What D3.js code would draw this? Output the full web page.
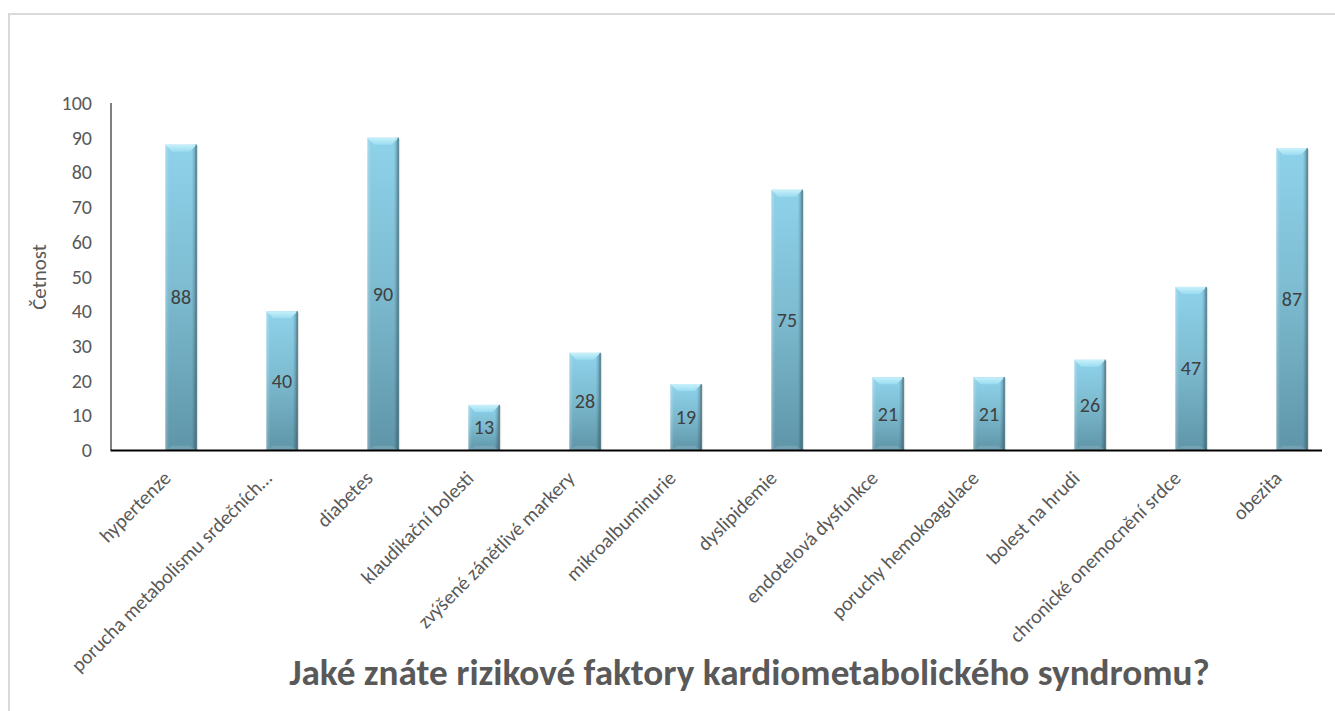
<!DOCTYPE html>
<html><head><meta charset="utf-8">
<script src="https://cdn.jsdelivr.net/npm/d3@7"></script>
<style>body{margin:0;background:#fff}svg{display:block}</style>
</head><body>
<svg id="chart" width="1335" height="711"></svg>
<script>
const categories = ["hypertenze","porucha metabolismu srdečních…","diabetes","klaudikační bolesti","zvýšené zánětlivé markery","mikroalbuminurie","dyslipidemie","endotelová dysfunkce","poruchy hemokoagulace","bolest na hrudi","chronické onemocnění srdce","obezita"];
const values = [88,40,90,13,28,19,75,21,21,26,47,87];
const yTicks = [0,10,20,30,40,50,60,70,80,90,100];
const yTitle = "Četnost";
const chartTitle = "Jaké znáte rizikové faktory kardiometabolického syndromu?";

const FONT = "Carlito, Calibri, Lato, sans-serif";
const svg = d3.select("#chart");

// frame
svg.append("rect").attr("x",9).attr("y",14).attr("width",1400).attr("height",800)
  .attr("fill","none").attr("stroke","#d9d9d9").attr("stroke-width",2);

const defs = svg.append("defs");
const vg = defs.append("linearGradient").attr("id","gv").attr("x1",0).attr("y1",0).attr("x2",0).attr("y2",1);
vg.append("stop").attr("offset","0%").attr("stop-color","#8ed2ea");
vg.append("stop").attr("offset","45%").attr("stop-color","#7ebdd2");
vg.append("stop").attr("offset","100%").attr("stop-color","#5f95a8");
const hg = defs.append("linearGradient").attr("id","gh").attr("x1",0).attr("y1",0).attr("x2",1).attr("y2",0);
hg.append("stop").attr("offset","0%").attr("stop-color","#ffffff").attr("stop-opacity",0.25);
hg.append("stop").attr("offset","12%").attr("stop-color","#ffffff").attr("stop-opacity",0);
hg.append("stop").attr("offset","85%").attr("stop-color","#000000").attr("stop-opacity",0);
hg.append("stop").attr("offset","100%").attr("stop-color","#000000").attr("stop-opacity",0.3);
const tg = defs.append("linearGradient").attr("id","gt").attr("x1",0).attr("y1",0).attr("x2",0).attr("y2",1);
tg.append("stop").attr("offset","0%").attr("stop-color","#c8f1fb");
tg.append("stop").attr("offset","100%").attr("stop-color","#9adcf0");

const x = d3.scaleBand().domain(categories).range([130.5,1342.5]).paddingInner(0.69).paddingOuter(0.345);
const y = d3.scaleLinear().domain([0,100]).range([450,103]);
const xAxisEnd = 1322;

// bars
const bw = x.bandwidth();
const g = svg.append("g");
categories.forEach((c,i)=>{
  const v = values[i];
  const x0 = x(c), yt = y(v), yb = y(0), h = yb-yt;
  const bg = g.append("g");
  bg.append("rect").attr("x",x0+1.5).attr("y",yt+1).attr("width",bw).attr("height",h-1)
    .attr("fill","#000").attr("opacity",0.12);
  bg.append("rect").attr("x",x0).attr("y",yt).attr("width",bw).attr("height",h).attr("fill","url(#gv)");
  bg.append("rect").attr("x",x0).attr("y",yt).attr("width",bw).attr("height",h).attr("fill","url(#gh)");
  const bev = Math.min(7, h/2);
  bg.append("polygon").attr("points",[[x0,yt],[x0+bw,yt],[x0+bw-bev,yt+bev],[x0+bev,yt+bev]].map(p=>p.join(",")).join(" "))
    .attr("fill","url(#gt)");
  bg.append("polygon").attr("points",[[x0+bev,yb-bev*0.6],[x0+bw-bev,yb-bev*0.6],[x0+bw,yb],[x0,yb]].map(p=>p.join(",")).join(" "))
    .attr("fill","#ffffff").attr("opacity",0.12);
  bg.append("line").attr("x1",x0+bw-0.5).attr("x2",x0+bw-0.5).attr("y1",yt).attr("y2",yb)
    .attr("stroke","#4a7887").attr("stroke-width",1);
  g.append("text").attr("x",x0+bw/2).attr("y",(yt+yb)/2).attr("dy","0.35em")
    .attr("text-anchor","middle").attr("font-family",FONT).attr("font-size",20).attr("fill","#404040").text(v);
});

// axes
svg.append("line").attr("x1",x.range()[0]-19.5).attr("x2",x.range()[0]-19.5).attr("y1",y(100)).attr("y2",y(0))
  .attr("stroke","#000").attr("stroke-width",1);
svg.append("line").attr("x1",x.range()[0]-20).attr("x2",xAxisEnd).attr("y1",y(0)+0.5).attr("y2",y(0)+0.5)
  .attr("stroke","#000").attr("stroke-width",2);

svg.append("g").selectAll("text").data(yTicks).join("text")
  .attr("x",92).attr("y",d=>y(d)).attr("dy","0.35em").attr("text-anchor","end")
  .attr("font-family",FONT).attr("font-size",20).attr("fill","#595959").text(d=>d);

svg.append("g").selectAll("text").data(categories).join("text")
  .attr("transform",d=>`translate(${x(d)+bw/2-9},479.5) rotate(-45)`)
  .attr("text-anchor","end")
  .attr("font-family",FONT).attr("font-size",20).attr("fill","#595959").text(d=>d);

svg.append("text").attr("transform","translate(46,277) rotate(-90)").attr("text-anchor","middle")
  .attr("font-family",FONT).attr("font-size",21).attr("fill","#595959").text(yTitle);

const t = svg.append("text").attr("x",749.5).attr("y",685).attr("text-anchor","middle")
  .attr("font-family",FONT).attr("font-weight","bold").attr("font-size",30).attr("fill","#595959").text(chartTitle);
const tw = t.node().getComputedTextLength();
t.attr("font-size", 30*921/tw);
</script>
</body></html>
